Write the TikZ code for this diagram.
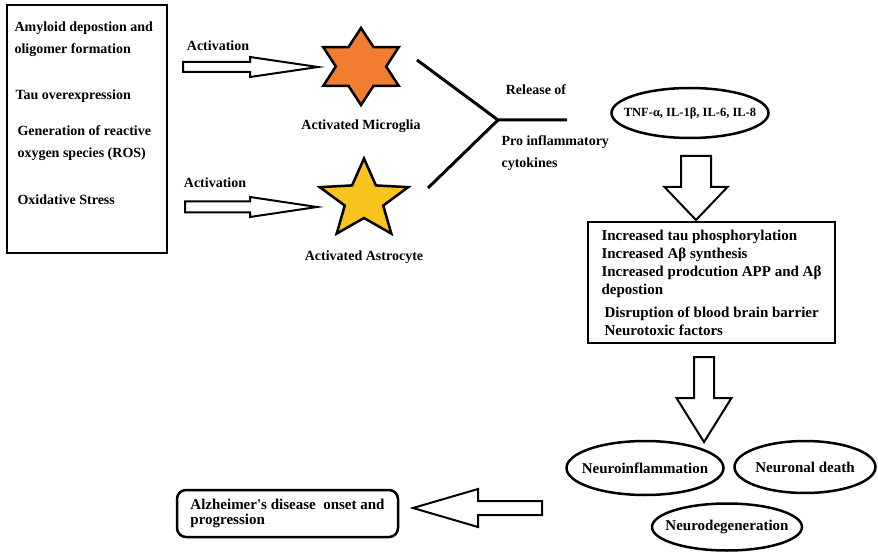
\documentclass[tikz,border=0pt]{standalone}
\usepackage{fontspec}
\setmainfont{Liberation Serif}
\usetikzlibrary{shapes.geometric,calc}

\definecolor{microfill}{RGB}{240,125,48}
\definecolor{astrofill}{RGB}{250,196,30}

\newcommand{\blockarrow}[5]{%
  \draw[blockarr] ($(#1)!#3!90:(#2)$) -- ($(#2)!#5!(#1)!#3!90:(#2)$)
    -- ($(#2)!#5!(#1)!#4!90:(#2)$) -- (#2)
    -- ($(#2)!#5!(#1)!#4!-90:(#2)$) -- ($(#2)!#5!(#1)!#3!-90:(#2)$)
    -- ($(#1)!#3!-90:(#2)$) -- cycle;}

\begin{document}
\begin{tikzpicture}[x=1pt,y=-1pt,
        txt/.style={font=\bfseries\fontsize{14}{22}\selectfont},
        bigtxt/.style={font=\bfseries\fontsize{15}{18}\selectfont},
        oval/.style={ellipse,draw,line width=2.5pt,inner sep=0pt,
          font=\bfseries\fontsize{15}{18}\selectfont},
        blockarr/.style={draw,line width=2pt,fill=white,line join=miter}]

  \useasboundingbox (0,0) rectangle (878,553);

  \node[draw,line width=2.5pt,minimum width=160pt,minimum height=248pt] (causes) at (87,129) {};
  \node[txt,anchor=west,align=left] (amyloid) at (11,39) {Amyloid depostion and\\oligomer formation};
  \node[txt,anchor=west] (tau) at (12,96) {Tau overexpression};
  \node[txt,anchor=west,align=left] (ros) at (14,143.5) {Generation of reactive\\oxygen species (ROS)};
  \node[txt,anchor=west] (stress) at (14,200) {Oxidative Stress};

  \begin{scope}[shift={(361,66.5)},xscale=1.13]
    \node[star,star points=6,star point ratio=1.73,minimum size=77pt,inner sep=0pt,
      draw,line width=2.5pt,fill=microfill,transform shape] (micro) {};
  \end{scope}
  \begin{scope}[shift={(364,200)},xscale=1.12]
    \node[star,star points=5,star point ratio=2.3,minimum size=83pt,inner sep=0pt,
      draw,line width=2.5pt,fill=astrofill,transform shape] (astro) {};
  \end{scope}
  \node[txt] (microlbl) [below of=micro,node distance=60pt] {Activated Microglia};
  \node[txt] (astrolbl) [below of=astro,node distance=57pt] {Activated Astrocyte};

  \node[txt] (act1) at (218,46) {Activation};
  \node[txt] (act2) at (215,183) {Activation};
  \coordinate (a1s) at (183,67);
  \coordinate (a1e) at (318,67);
  \coordinate (a2s) at (185,207);
  \coordinate (a2e) at (317,207);
  \blockarrow{a1s}{a1e}{5pt}{10pt}{68pt}
  \blockarrow{a2s}{a2e}{5.5pt}{10pt}{67pt}

  \coordinate (fk1) at (417,60);
  \coordinate (fk2) at (428,188);
  \coordinate (fork) at (498,120);
  \coordinate (fk3) at (567,120);
  \draw[line width=3pt] (fk1) -- (fork) -- (fk3);
  \draw[line width=3pt] (fk2) -- (fork);
  \node[txt] (release) at (536,90) {Release of};
  \node[txt,anchor=west,align=left] (pro) at (498,153) {Pro inflammatory\\cytokines};

  \node[oval,minimum width=157pt,minimum height=50pt,
    font=\bfseries\fontsize{12.5}{15}\selectfont] (tnf) at (690,113) {\makebox[0pt]{TNF-α, IL-1β, IL-6, IL-8}};

  \coordinate (d1s) at (696,156);
  \coordinate (d1e) at (696,220);
  \blockarrow{d1s}{d1e}{15pt}{31.5pt}{33pt}

  \node[draw,line width=2.5pt,minimum width=247pt,minimum height=121pt,align=left,bigtxt]
    (effects) at (711.5,282.5) {Increased tau phosphorylation\\Increased Aβ synthesis\\
    Increased prodcution APP and Aβ\\depostion\\[5pt]\hspace*{3pt}Disruption of blood brain barrier\\
    \hspace*{3pt}Neurotoxic factors};

  \coordinate (d2s) at (704,357);
  \coordinate (d2e) at (704,442);
  \blockarrow{d2s}{d2e}{10pt}{27.5pt}{44pt}

  \node[oval,minimum width=157pt,minimum height=54pt] (inflam) at (645,468) {\makebox[0pt]{Neuroinflammation}};
  \node[oval,minimum width=141pt,minimum height=52pt] (death) at (805,467) {\makebox[0pt]{Neuronal death}};
  \node[oval,minimum width=150pt,minimum height=47pt] (degen) at (727,527) {\makebox[0pt]{Neurodegeneration}};

  \coordinate (l1s) at (542,508);
  \coordinate (l1e) at (413,508);
  \blockarrow{l1s}{l1e}{7pt}{19pt}{65pt}

  \node[draw,rounded corners=9pt,line width=2.5pt,minimum width=221pt,minimum height=47pt,
    align=left,font=\bfseries\fontsize{15}{15}\selectfont] (ad) at (287.5,513.5)
    {Alzheimer\textquotesingle s disease~~onset and\\progression};

\end{tikzpicture}
\end{document}
